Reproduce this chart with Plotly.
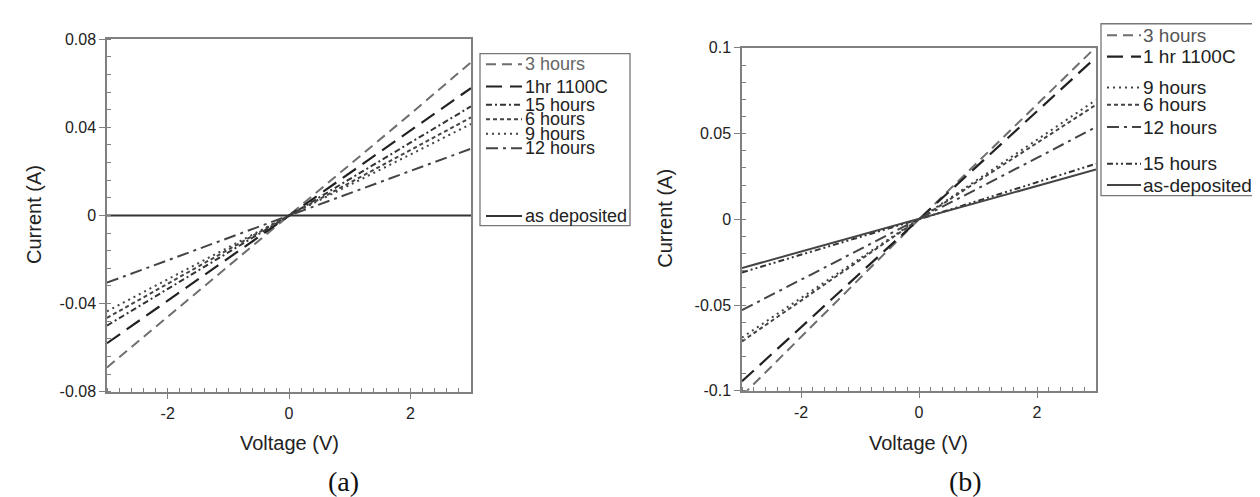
import plotly.graph_objects as go

W, H = 1260, 497

# ---------------- data ----------------
voltage = [-3, -2, -1, 0, 1, 2, 3]

# panel (a)
a_names = ["3 hours", "1hr 1100C", "15 hours", "6 hours", "9 hours", "12 hours", "as deposited"]
a_3h = [-0.069, -0.046, -0.023, 0.0, 0.023, 0.046, 0.0695]
a_1hr = [-0.058, -0.0387, -0.0193, 0.0, 0.0192, 0.0384, 0.0578]
a_15h = [-0.050, -0.0333, -0.0166, 0.0, 0.0165, 0.0330, 0.0495]
a_6h = [-0.0465, -0.031, -0.0155, 0.0, 0.0148, 0.0296, 0.0445]
a_9h = [-0.0435, -0.029, -0.0145, 0.0, 0.0138, 0.0276, 0.0415]
a_12h = [-0.0305, -0.0203, -0.0102, 0.0, 0.0101, 0.0202, 0.0303]
a_asdep = [0.0, 0.0, 0.0, 0.0, 0.0, 0.0, 0.0]
a_values = [a_3h, a_1hr, a_15h, a_6h, a_9h, a_12h, a_asdep]

# panel (b)
b_names = ["3 hours", "1 hr 1100C", "9 hours", "6 hours", "12 hours", "15 hours", "as-deposited"]
b_3h = [-0.103, -0.0687, -0.0343, 0.0, 0.0335, 0.067, 0.1005]
b_1hr = [-0.0945, -0.063, -0.0315, 0.0, 0.0315, 0.063, 0.0945]
b_9h = [-0.069, -0.046, -0.023, 0.0, 0.0232, 0.0464, 0.0696]
b_6h = [-0.0712, -0.0475, -0.0237, 0.0, 0.0223, 0.0446, 0.0668]
b_12h = [-0.053, -0.0353, -0.0177, 0.0, 0.0179, 0.0358, 0.0538]
b_15h = [-0.031, -0.0207, -0.0103, 0.0, 0.0108, 0.0216, 0.0324]
b_asdep = [-0.0284, -0.0189, -0.0095, 0.0, 0.0097, 0.0194, 0.029]
b_values = [b_3h, b_1hr, b_9h, b_6h, b_12h, b_15h, b_asdep]

x_tickvals = [-2, 0, 2]
x_ticktext = ["-2", "0", "2"]
a_y_tickvals = [0.08, 0.04, 0, -0.04, -0.08]
a_y_ticktext = ["0.08", "0.04", "0", "-0.04", "-0.08"]
b_y_tickvals = [0.1, 0.05, 0, -0.05, -0.1]
b_y_ticktext = ["0.1", "0.05", "0", "-0.05", "-0.1"]

# ---------------- styles ----------------
STYLE = {
    "3 hours": dict(color="#6e6e6e", dash="10px,6px", width=2),
    "1hr 1100C": dict(color="#222222", dash="16px,8px", width=2.2),
    "1 hr 1100C": dict(color="#222222", dash="16px,8px", width=2.2),
    "15 hours": dict(color="#333333", dash="6px,3px,2px,3px", width=2),
    "6 hours": dict(color="#444444", dash="4px,3px", width=2),
    "9 hours": dict(color="#444444", dash="2px,4px", width=2),
    "12 hours": dict(color="#444444", dash="12px,5px,3px,5px", width=2),
    "as deposited": dict(color="#333333", dash="solid", width=2),
    "as-deposited": dict(color="#444444", dash="solid", width=2),
}
B_STYLE = dict(STYLE)
B_STYLE["15 hours"] = dict(color="#333333", dash="6px,3px,2px,3px,2px,3px", width=2)


def px(x):
    return x / W


def py(y):
    return 1 - y / H


fig = go.Figure()
for name, vals in zip(a_names, a_values):
    s = STYLE[name]
    fig.add_trace(go.Scatter(x=voltage, y=vals, mode="lines", name=name, showlegend=False,
                             line=dict(color=s["color"], dash=s["dash"], width=s["width"]),
                             xaxis="x", yaxis="y"))
for name, vals in zip(b_names, b_values):
    s = B_STYLE[name]
    fig.add_trace(go.Scatter(x=voltage, y=vals, mode="lines", name=name, showlegend=False,
                             line=dict(color=s["color"], dash=s["dash"], width=s["width"]),
                             xaxis="x2", yaxis="y2"))

AX_COLOR = "#808080"
TICKFONT = dict(family="Liberation Sans, Arial, sans-serif", size=16, color="#222")


def xaxis(domain, anchor):
    return dict(domain=domain, anchor=anchor, range=[-3, 3], tickvals=x_tickvals, ticktext=x_ticktext,
                showline=True, linecolor=AX_COLOR, linewidth=1.5, mirror=True,
                ticks="outside", ticklen=6, tickcolor=AX_COLOR, tickwidth=1.3,
                minor=dict(ticks="inside", dtick=0.2, tick0=0, ticklen=4, tickcolor=AX_COLOR, tickwidth=1),
                showgrid=False, zeroline=False, tickfont=TICKFONT)


def yaxis(domain, anchor, rng, tv, tt, minor_dtick):
    return dict(domain=domain, anchor=anchor, range=rng, tickvals=tv, ticktext=tt,
                showline=True, linecolor=AX_COLOR, linewidth=1.5, mirror=True,
                ticks="outside", ticklen=6, tickcolor=AX_COLOR, tickwidth=1.3,
                minor=dict(ticks="inside", dtick=minor_dtick, tick0=0, ticklen=4, tickcolor=AX_COLOR, tickwidth=1),
                showgrid=False, zeroline=False, tickfont=TICKFONT)


fig.update_layout(
    width=W, height=H, margin=dict(l=0, r=0, t=0, b=0),
    paper_bgcolor="white", plot_bgcolor="white",
    xaxis=xaxis([px(99), px(463)], "y"),
    yaxis=yaxis([py(389), py(24)], "x", [-0.08, 0.08], a_y_tickvals, a_y_ticktext, 0.008),
    xaxis2=xaxis([px(734), px(1088)], "y2"),
    yaxis2=yaxis([py(388), py(33)], "x2", [-0.1, 0.1], b_y_tickvals, b_y_ticktext, 0.01),
    showlegend=False,
)

ann = []
shapes = []
LABEL_FONT = dict(family="Liberation Sans, Arial, sans-serif", size=20, color="#222")
for xc in (281, 910):
    ann.append(dict(x=px(xc), y=py(442), xref="paper", yref="paper", text="Voltage (V)",
                    showarrow=False, font=LABEL_FONT, xanchor="center", yanchor="middle"))
for xc, yc in ((26, 206), (657, 210)):
    ann.append(dict(x=px(xc), y=py(yc), xref="paper", yref="paper", text="Current (A)", textangle=-90,
                    showarrow=False, font=LABEL_FONT, xanchor="center", yanchor="middle"))
for xc, t in ((335, "(a)"), (957, "(b)")):
    ann.append(dict(x=px(xc), y=py(482), xref="paper", yref="paper", text=t, showarrow=False,
                    font=dict(family="Liberation Serif, Times New Roman, serif", size=28, color="#111"),
                    xanchor="center", yanchor="middle"))


def legend_box(x0, y0, x1, y1, names, ys, styles, sx0, sx1, tx, fsize, name_colors):
    shapes.append(dict(type="rect", xref="paper", yref="paper", x0=px(x0), x1=px(x1), y0=py(y0), y1=py(y1),
                       line=dict(color="#777", width=1.3), fillcolor="rgba(0,0,0,0)"))
    for name, yy in zip(names, ys):
        s = styles[name]
        shapes.append(dict(type="line", xref="paper", yref="paper", x0=px(sx0), x1=px(sx1), y0=py(yy), y1=py(yy),
                           line=dict(color=s["color"], dash=s["dash"], width=s["width"])))
        ann.append(dict(x=px(tx), y=py(yy), xref="paper", yref="paper", text=name, showarrow=False,
                        xanchor="left", yanchor="middle",
                        font=dict(family="Liberation Sans, Arial, sans-serif", size=fsize,
                                  color=name_colors.get(name, "#222"))))


a_leg_y = [50, 73, 92, 107, 122, 137, 207]
b_leg_y = [20, 42, 74, 92, 115, 153, 175]
legend_box(472, 39, 622, 217, a_names, a_leg_y, STYLE, 478, 514, 515, 18, {"3 hours": "#666"})
legend_box(1093, 8, 1251, 186, b_names, b_leg_y, B_STYLE, 1099, 1133, 1133, 19, {"3 hours": "#555"})

fig.update_layout(annotations=ann, shapes=shapes)
fig.write_html("out.html")
